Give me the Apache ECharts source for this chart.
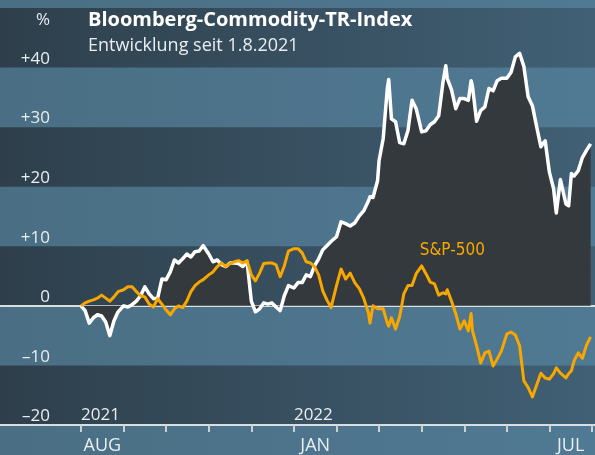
<!DOCTYPE html>
<html lang="de">
<head>
<meta charset="UTF-8">
<title>Bloomberg-Commodity-TR-Index</title>
<script src="https://cdn.jsdelivr.net/npm/echarts@6/dist/echarts.min.js"></script>
<style>
  html, body { margin: 0; padding: 0; background: #4c7288; }
  #chart { width: 595px; height: 455px; }
</style>
</head>
<body>
<div id="chart"></div>
<script>
// sample dates (irregular)
const dates = [
  '2021-08-01','2021-08-04','2021-08-07','2021-08-10','2021-08-13','2021-08-16','2021-08-19','2021-08-22','2021-08-25','2021-08-28',
  '2021-09-01','2021-09-04','2021-09-07','2021-09-10','2021-09-13','2021-09-16','2021-09-19','2021-09-22','2021-09-25','2021-09-28',
  '2021-10-01','2021-10-04','2021-10-07','2021-10-10','2021-10-13','2021-10-16','2021-10-19','2021-10-22','2021-10-25','2021-10-28',
  '2021-11-01','2021-11-04','2021-11-07','2021-11-10','2021-11-13','2021-11-16','2021-11-19','2021-11-22','2021-11-25','2021-11-28',
  '2021-12-01','2021-12-04','2021-12-07','2021-12-10','2021-12-13','2021-12-16','2021-12-19','2021-12-22','2021-12-25','2021-12-28',
  '2022-01-01','2022-01-04','2022-01-07','2022-01-10','2022-01-13','2022-01-16','2022-01-19','2022-01-22','2022-01-25','2022-01-28',
  '2022-02-01','2022-02-04','2022-02-07','2022-02-10','2022-02-13','2022-02-16','2022-02-19','2022-02-22','2022-02-23','2022-02-25','2022-02-28',
  '2022-03-01','2022-03-04','2022-03-07','2022-03-08','2022-03-10','2022-03-13','2022-03-16','2022-03-19','2022-03-22','2022-03-25','2022-03-28',
  '2022-04-01','2022-04-04','2022-04-07','2022-04-10','2022-04-13','2022-04-16','2022-04-18','2022-04-19','2022-04-22','2022-04-25','2022-04-28',
  '2022-05-01','2022-05-04','2022-05-06','2022-05-07','2022-05-10','2022-05-13','2022-05-16','2022-05-19','2022-05-22','2022-05-25','2022-05-28',
  '2022-06-01','2022-06-04','2022-06-07','2022-06-10','2022-06-13','2022-06-16','2022-06-19','2022-06-22','2022-06-25','2022-06-28',
  '2022-07-01','2022-07-04','2022-07-06','2022-07-09','2022-07-13','2022-07-15','2022-07-17','2022-07-19','2022-07-22','2022-07-25','2022-07-28','2022-07-31'
];

// Bloomberg Commodity TR Index, % since 1.8.2021
const bloomberg = [
  0, -0.8, -2.9, -2.0, -1.5, -1.7, -2.7, -5.0, -2.5, -1.0,
  0, -0.2, 0.2, 0.8, 1.7, 3.2, 2.0, 1.2, 1.3, 4.5,
  4.4, 5.7, 7.7, 7.2, 7.9, 8.7, 8.2, 9.1, 9.2, 10.1,
  8.7, 7.4, 7.7, 6.9, 6.6, 7.2, 7.2, 7.1, 6.6, 7.4,
  0.8, -1.0, -0.5, 0.5, 0.3, 0.5, -0.2, -0.8, 1.7, 3.4,
  3.0, 3.9, 3.9, 5.2, 4.9, 6.7, 7.9, 9.4, 10.1, 10.8,
  11.6, 14.1, 13.8, 13.4, 13.9, 15.1, 16.0, 17.6, 18.3, 18.2, 21.0,
  24.4, 28.1, 36.5, 38.0, 31.4, 30.9, 27.4, 27.2, 29.4, 34.5, 33.1,
  29.2, 29.4, 30.4, 30.9, 31.9, 37.5, 40.3, 38.2, 36.3, 33.1, 34.8,
  34.8, 34.5, 37.8, 36.8, 31.0, 32.8, 33.4, 36.5, 36.1, 37.8, 38.2,
  38.2, 39.2, 41.8, 42.4, 40.2, 35.1, 33.6, 30.1, 26.7, 27.7,
  22.4, 19.7, 15.6, 21.2, 17.1, 16.8, 22.2, 21.8, 22.7, 24.9, 26.1, 27.2
];

// S&P-500, % since 1.8.2021
const sp500 = [
  0, 0.5, 0.8, 1.0, 1.3, 1.8, 1.3, 0.8, 1.5, 2.4,
  2.7, 3.2, 3.2, 2.4, 1.7, 1.5, 0.3, -0.2, 1.2, 0.3,
  -0.7, -1.5, -0.5, 0, -0.3, 0.8, 2.4, 3.4, 4.0, 4.4,
  5.2, 5.7, 6.6, 7.2, 6.6, 7.1, 7.4, 7.6, 7.2, 7.6,
  5.2, 4.2, 5.5, 7.1, 7.2, 7.2, 6.9, 4.9, 6.7, 9.2,
  9.6, 9.6, 8.9, 7.4, 7.2, 6.6, 5.2, 2.5, 1.0, -0.3,
  3.4, 6.2, 4.5, 5.5, 3.9, 2.9, 1.2, -1.2, -2.9, 0, -0.5,
  -0.8, -0.5, -2.9, -3.4, -2.0, -3.9, -1.8, 2.0, 3.4, 3.4, 5.4,
  6.7, 5.4, 4.0, 3.7, 1.8, 2.2, 2.0, 2.7, 0.8, -1.3, -3.9,
  -2.5, -4.2, -1.3, -4.2, -6.7, -9.6, -7.9, -7.6, -10.1, -8.9, -7.6,
  -4.7, -4.4, -4.9, -6.7, -12.6, -13.7, -15.3, -13.3, -11.3, -12.1,
  -12.3, -11.4, -10.4, -11.3, -12.1, -11.4, -10.9, -9.2, -7.9, -8.8, -6.6, -5.2
];

const months = ['AUG', 'SEP', 'OKT', 'NOV', 'DEZ', 'JAN', 'FEB', 'MÄR', 'APR', 'MAI', 'JUN', 'JUL'];
const shownMonths = ['AUG', 'JAN', 'JUL'];
const yearLabels = { 0: '2021', 5: '2022' };
const spLabelDate = '2022-04-01';

const font = 'Open Sans';

// months since 1.8.2021, every month the same width like on the original
function monthPos(s) {
  const [y, m, d] = s.split('-').map(Number);
  const dim = new Date(y, m, 0).getDate();
  return (y - 2021) * 12 + (m - 8) + (d - 1) / dim;
}

const bbData = dates.map((d, i) => [monthPos(d), bloomberg[i]]);
const spData = dates.map((d, i) => [monthPos(d), sp500[i]]);
const spIdx = dates.indexOf(spLabelDate);

const darkBand = new echarts.graphic.LinearGradient(0, 0, 1, 0, [
  { offset: 0, color: '#2e3f4b' },
  { offset: 1, color: '#416075' }
]);
const lightBg = new echarts.graphic.LinearGradient(0, 0, 1, 0, [
  { offset: 0, color: '#4a6f84' },
  { offset: 1, color: '#507993' }
]);

let option = {
  animation: false,
  graphic: [{
    type: 'rect', z: -100, silent: true,
    shape: { x: 0, y: 0, width: 595, height: 455 },
    style: { fill: lightBg }
  }],
  title: [
    { text: '%', right: 545, top: 12, padding: 0,
      textStyle: { color: '#e8eef1', fontFamily: font, fontSize: 17, fontWeight: 'normal' } },
    { text: 'Bloomberg-Commodity-TR-Index', left: 88, top: 10, padding: 0,
      textStyle: { color: '#ffffff', fontFamily: font, fontSize: 20, fontWeight: 'bold' } },
    { text: 'Entwicklung seit 1.8.2021', left: 88, top: 37, padding: 0,
      textStyle: { color: '#e8eef1', fontFamily: font, fontSize: 18, fontWeight: 'normal' } }
  ],
  grid: [
    { left: 0, right: 0, top: 8, bottom: 30 },
    { left: 81, right: 0, top: 8, bottom: 30 }
  ],
  xAxis: [
    { // zero line
      gridIndex: 0, type: 'value', min: 0, max: 1,
      axisLine: { onZero: true, lineStyle: { color: '#d9dee1', width: 2 } },
      axisTick: { show: false }, axisLabel: { show: false }, splitLine: { show: false }
    },
    { // bottom line
      gridIndex: 0, type: 'value', min: 0, max: 1, position: 'bottom',
      axisLine: { onZero: false, lineStyle: { color: '#d9dee1', width: 2 } },
      axisTick: { show: false }, axisLabel: { show: false }, splitLine: { show: false }
    },
    { // month ticks and labels
      gridIndex: 1, type: 'category', data: months, boundaryGap: true, position: 'bottom',
      axisLine: { show: false, onZero: false },
      axisTick: { show: true, interval: 0, length: 7, lineStyle: { color: '#c9d1d6', width: 2 } },
      axisLabel: {
        interval: 0, margin: 12, color: '#e8eef1', fontFamily: font, fontSize: 18,
        formatter: v => shownMonths.includes(v) ? v : ''
      },
      splitLine: { show: false }
    },
    { // data axis with year labels
      gridIndex: 1, type: 'value', min: 0, max: 12, interval: 1, position: 'bottom',
      axisLine: { show: false, onZero: false }, axisTick: { show: false },
      axisLabel: {
        inside: true, margin: 1, align: 'left', showMinLabel: true,
        color: '#e8eef1', fontFamily: font, fontSize: 17,
        formatter: v => yearLabels[v] || ''
      },
      splitLine: { show: false }
    }
  ],
  yAxis: [
    {
      gridIndex: 0, type: 'value', min: -20, max: 50, interval: 10,
      axisLine: { show: false }, axisTick: { show: false },
      splitLine: { show: false },
      splitArea: { show: true, areaStyle: { color: [darkBand, 'rgba(0,0,0,0)'] } },
      axisLabel: {
        inside: true, margin: 50, align: 'right', verticalAlign: 'bottom',
        color: '#e8eef1', fontFamily: font, fontSize: 17,
        formatter: v => v === 50 ? '' : v > 0 ? '+' + v : v < 0 ? '\u2013' + (-v) : '0'
      }
    },
    {
      gridIndex: 1, type: 'value', min: -20, max: 50, show: false
    }
  ],
  series: [
    {
      name: 'Bloomberg-Commodity-TR-Index',
      type: 'line', xAxisIndex: 3, yAxisIndex: 1,
      showSymbol: false, z: 3,
      lineStyle: { color: '#ffffff', width: 3.5, join: 'round' },
      areaStyle: { color: '#33393c', opacity: 1, origin: 'auto' },
      data: bbData
    },
    {
      name: 'S&P-500',
      type: 'line', xAxisIndex: 3, yAxisIndex: 1,
      showSymbol: false, z: 4,
      lineStyle: { color: '#f7a700', width: 3, join: 'round' },
      data: spData,
      markPoint: {
        symbol: 'circle', symbolSize: 0, silent: true,
        data: [{ coord: spData[spIdx] }],
        label: {
          show: true, position: 'inside', align: 'left', verticalAlign: 'middle',
          offset: [-2, -15], formatter: 'S&P-500',
          color: '#f7a700', fontFamily: "'Liberation Sans Narrow', 'DejaVu Sans Condensed', sans-serif", fontSize: 17
        }
      }
    }
  ]
};

let chart = echarts.init(document.getElementById('chart'));
chart.setOption(option);
</script>
</body>
</html>
